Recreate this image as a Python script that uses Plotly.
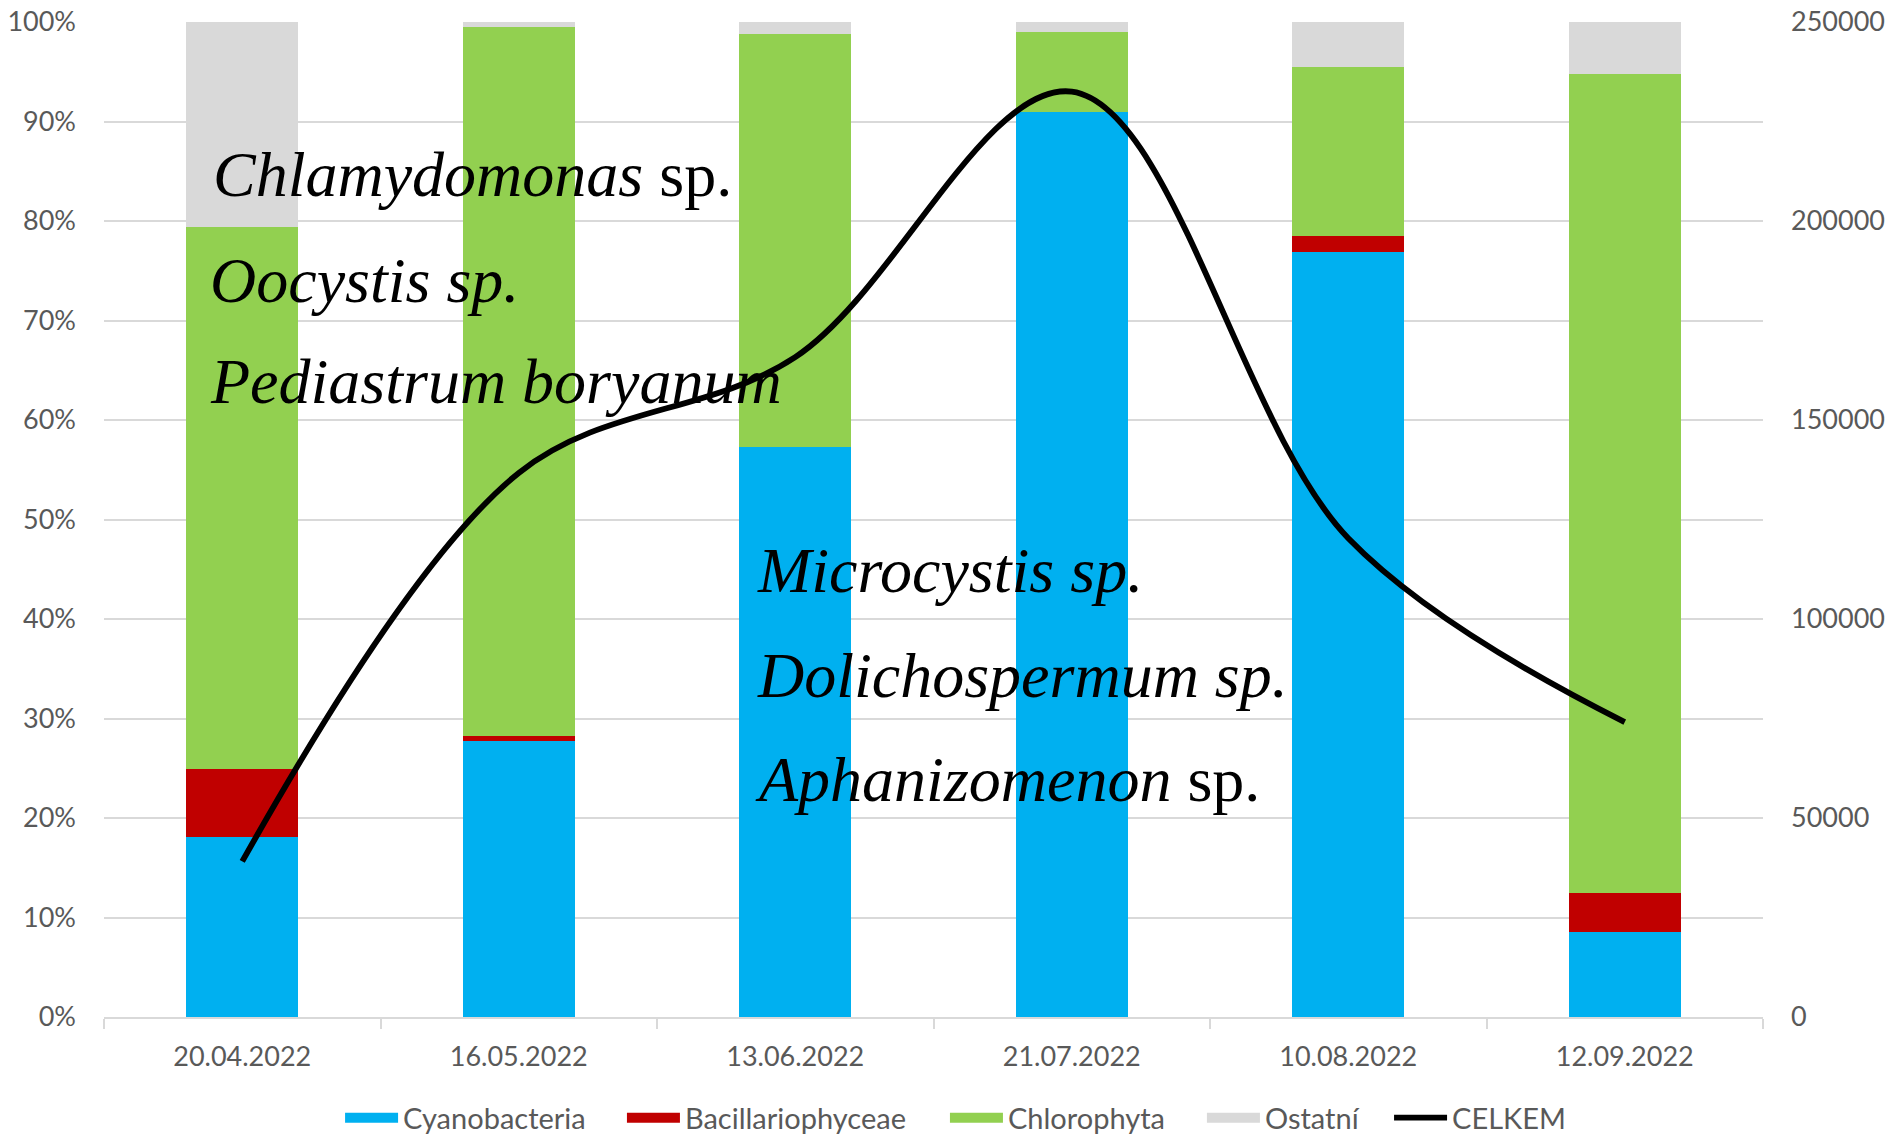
import plotly.graph_objects as go

categories = ["20.04.2022", "16.05.2022", "13.06.2022", "21.07.2022", "10.08.2022", "12.09.2022"]
cyanobacteria = [18.1, 27.7, 57.3, 91.0, 76.9, 8.5]
bacillariophyceae = [6.8, 0.5, 0.0, 0.0, 1.6, 4.0]
chlorophyta = [54.5, 71.3, 41.5, 8.0, 17.0, 82.3]
ostatni = [20.6, 0.5, 1.2, 1.0, 4.5, 5.2]
celkem = [39100, 136700, 165800, 232500, 120300, 74100]

pct_ticks = [0, 10, 20, 30, 40, 50, 60, 70, 80, 90, 100]
pct_labels = [f"{v}%" for v in pct_ticks]
right_ticks = [0, 50000, 100000, 150000, 200000, 250000]

FONT = "Lato"
GRAY = "#595959"
GRID = "#D9D9D9"
TICK = 27

fig = go.Figure()
series = [
    ("Cyanobacteria", cyanobacteria, "#00B0F0"),
    ("Bacillariophyceae", bacillariophyceae, "#C00000"),
    ("Chlorophyta", chlorophyta, "#92D050"),
    ("Ostatní", ostatni, "#D9D9D9"),
]
legend_ids = ["legend", "legend2", "legend3", "legend4", "legend5"]
legend_x = [0.1423, 0.3122, 0.5069, 0.6618, 0.7746]

for name, vals, col in series:
    fig.add_trace(go.Bar(x=categories, y=vals, name=name, legendgroup=name, showlegend=False,
                         marker=dict(color=col, line=dict(width=0))))
# legend swatches (wide rectangles as in the original)
for i, (name, vals, col) in enumerate(series):
    fig.add_trace(go.Scatter(x=[None], y=[None], name=name, legendgroup=name, mode="lines",
                             legend=legend_ids[i], line=dict(color=col, width=18), hoverinfo="skip"))

fig.add_trace(go.Scatter(x=categories, y=celkem, name="CELKEM", mode="lines", yaxis="y2", legend=legend_ids[4],
                         line=dict(color="black", width=5.8, shape="spline", smoothing=1.0)))

annots = [
    ("<i>Chlamydomonas</i> sp.", 0.0645, 0.8472),
    ("<i>Oocystis sp.</i>", 0.0627, 0.7407),
    ("<i>Pediastrum boryanum</i>", 0.0627, 0.6382),
    ("<i>Microcystis sp.</i>", 0.3924, 0.4492),
    ("<i>Dolichospermum sp.</i>", 0.3924, 0.3437),
    ("<i>Aphanizomenon</i> sp.", 0.3912, 0.2382),
]
for txt, ax, ay in annots:
    fig.add_annotation(text=txt, x=ax, y=ay, xref="paper", yref="paper", xanchor="left", yanchor="middle",
                       showarrow=False, font=dict(family="Liberation Serif", size=64, color="black"))

legend_common = dict(orientation="h", xanchor="left", y=-0.127, yanchor="bottom",
                     font=dict(family=FONT, size=29, color=GRAY), itemwidth=53, bgcolor="rgba(0,0,0,0)")

fig.update_layout(
    width=1893, height=1134,
    margin=dict(l=104, r=130, t=22, b=117, autoexpand=False),
    paper_bgcolor="white", plot_bgcolor="white",
    barmode="stack", bargap=0.595,
    font=dict(family=FONT, size=TICK, color=GRAY),
    showlegend=True,
    xaxis=dict(type="category", showline=True, linecolor=GRID, linewidth=1.5, automargin=False,
               ticks="outside", tickson="boundaries", ticklen=10, tickcolor=GRID, tickwidth=1.5,
               tickfont=dict(family=FONT, size=TICK, color=GRAY), showgrid=False, ticklabelstandoff=15),
    yaxis=dict(range=[0, 100], tickvals=pct_ticks, ticktext=pct_labels, showgrid=True, automargin=False,
               gridcolor=GRID, gridwidth=1.5, zeroline=False, showline=False,
               tickfont=dict(family=FONT, size=TICK, color=GRAY), ticklabelstandoff=27),
    yaxis2=dict(range=[0, 250000], tickvals=right_ticks, tickformat="d", overlaying="y", side="right",
                showgrid=False, zeroline=False, showline=False, automargin=False,
                tickfont=dict(family=FONT, size=TICK, color=GRAY), ticklabelstandoff=27),
)
for lid, lx in zip(legend_ids, legend_x):
    fig.update_layout({lid: dict(x=lx, **legend_common)})

fig.write_html("out.html", config={"displayModeBar": False},
               post_script="document.body.style.margin='0';document.body.style.overflow='hidden';")
